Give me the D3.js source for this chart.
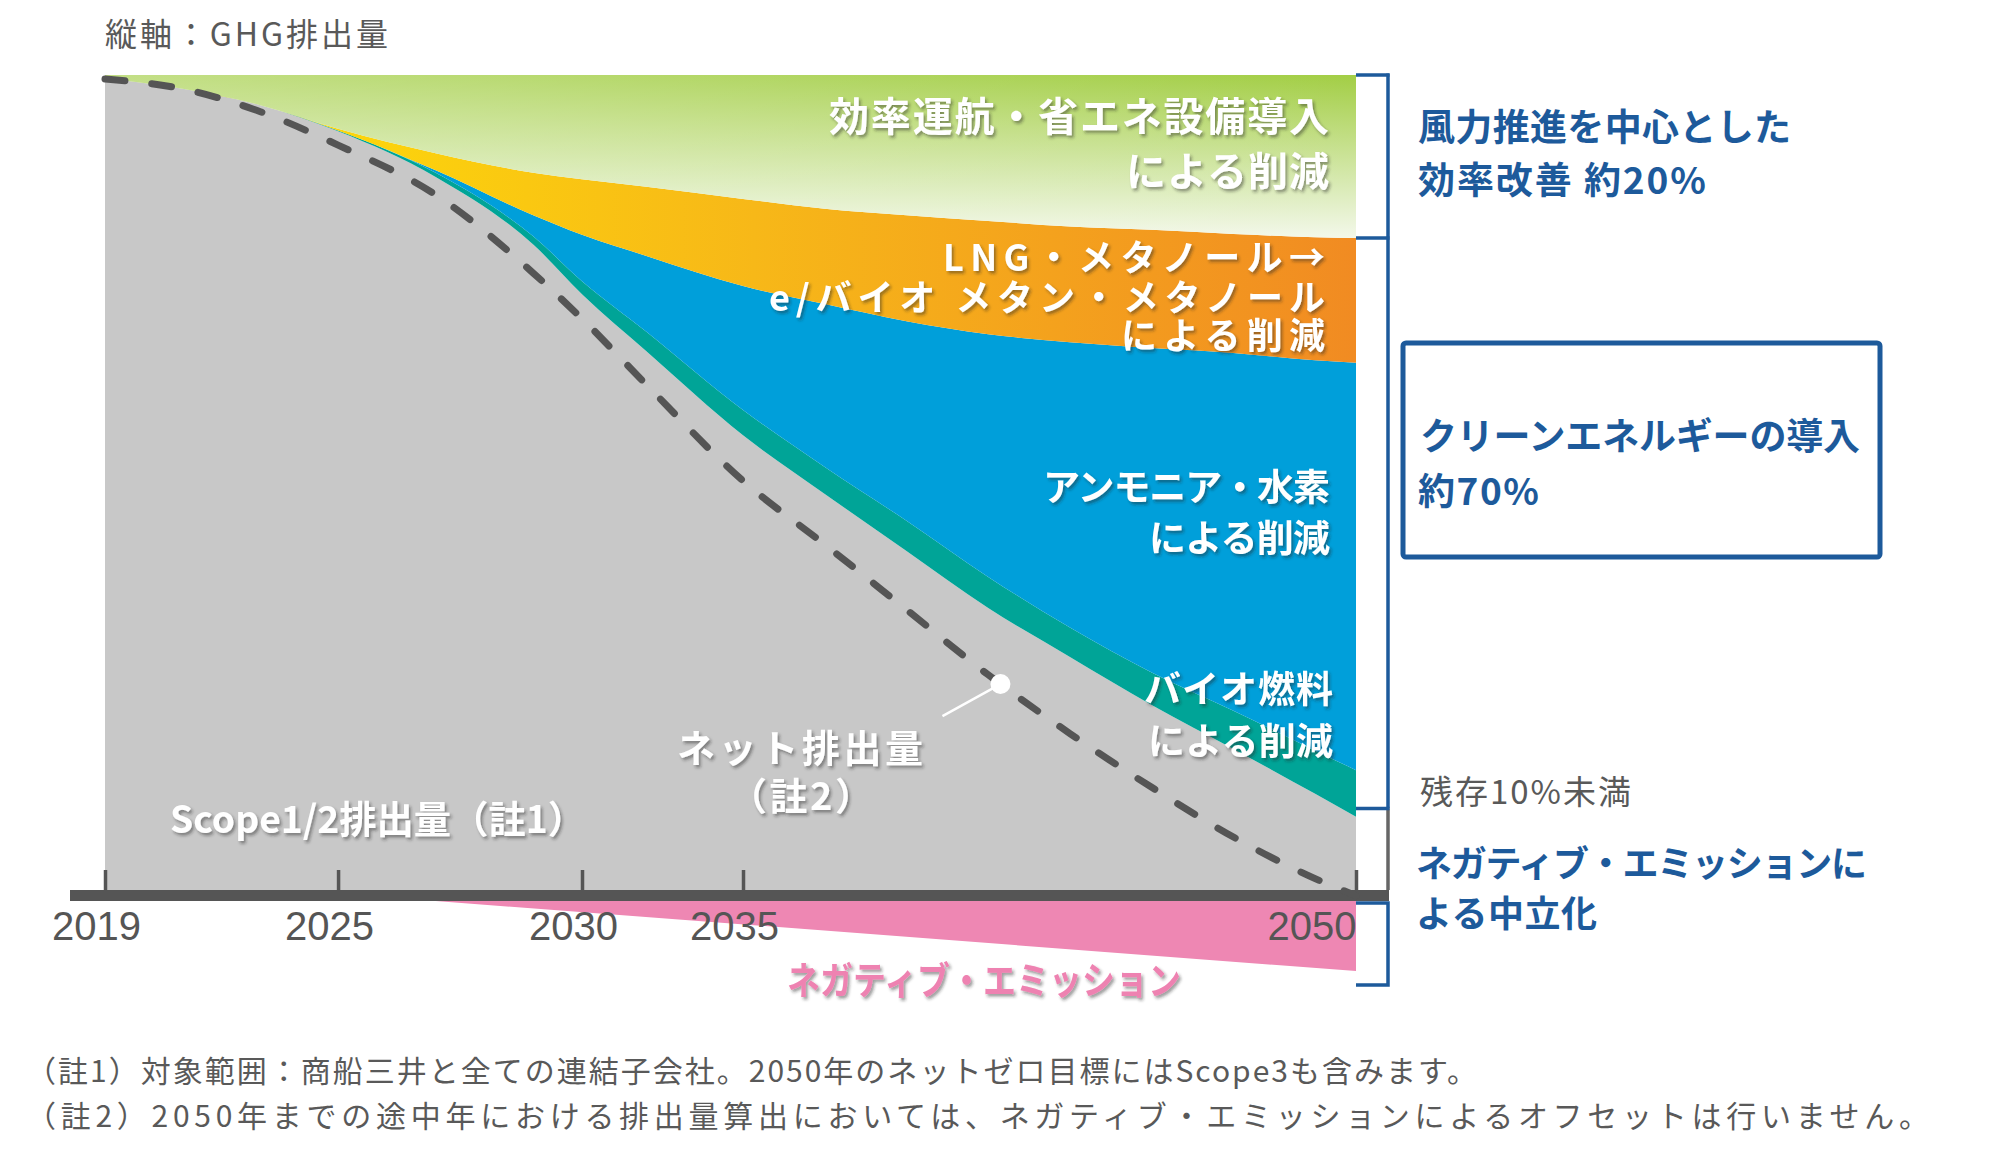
<!DOCTYPE html>
<html><head><meta charset="utf-8">
<script src="https://cdn.jsdelivr.net/npm/d3@7"></script>
<style>
html,body{margin:0;padding:0;background:#fff;}
svg{display:block;}
text{font-family:"Noto Sans CJK JP","Noto Sans",sans-serif;}
</style></head><body>
<svg id="chart" width="2000" height="1160"></svg>
<script>
// ---------------- data ----------------
const years       = [2019, 2021, 2023, 2025, 2027, 2029, 2030, 2032, 2035, 2037, 2039, 2041, 2043, 2045, 2047, 2049, 2050];
const scope12     = [99.6, 98.3, 96.3, 93.1, 87.5, 79.2, 73.1, 66.1, 55.8, 48.6, 41.6, 34.6, 28.6, 22.7, 17.3, 11.8, 9.0];
const biofuel     = [0,    0,    0,    0.1,  0.5,  1.0,  1.6,  2.4,  3.1,  3.3,  3.7,  3.8,  3.6,  4.0,  4.7,  5.3,  5.7];
const ammonia     = [0,    0,    0,    0,    0.3,  2.6,  5.7,  9.3,  15.2, 20.0, 24.5, 29.8, 35.0, 39.8, 43.9, 47.9, 50.0];
const lngMethanol = [0,    0,    0,    0.2,  2.1,  5.2,  6.8,  8.5,  10.7, 11.7, 13.0, 13.9, 14.2, 14.5, 14.6, 15.1, 15.3];
const efficiency  = [0.4,  1.7,  3.7,  6.6,  9.6,  12.0, 12.8, 13.7, 15.2, 16.4, 17.2, 17.9, 18.6, 19.0, 19.5, 19.9, 20.0];
const netEmission = [99.5, 98.3, 95.5, 91.4, 85.3, 75.7, 70.1, 62.0, 50.2, 42.4, 34.4, 26.4, 19.2, 12.6, 6.5,  1.4,  -0.7];
const negYears    = [2027, 2050];
const negEmission = [0, 8.6];
const tickYears   = [2019, 2025, 2030, 2035, 2050];
const tickLabels  = ["2019", "2025", "2030", "2035", "2050"];
const seriesKeys  = ["scope12", "biofuel", "ammonia", "lng", "efficiency"];
const bracketLevels = [100, 80, 10];
const dotYear = 2041.3;

// ---------------- layout ----------------
const svg = d3.select("#chart");
const L = 105, R = 1356, W = R - L;
const baseY = 890, topY = 75, barH = 11;
const x = d3.scaleLinear().domain(tickYears)
  .range([L, L + 0.1863 * W, L + 0.3813 * W, L + 0.51 * W, R]);
const y = d3.scaleLinear().domain([0, 100]).range([baseY, topY]);
const pxPerUnit = (baseY - topY) / 100;
const yNeg = d3.scaleLinear().domain([0, 10]).range([baseY + barH, baseY + barH + 10 * pxPerUnit]);

const BLUE = "#1d5a9b", GRAYTXT = "#595959", AXIS = "#555555";

// defs
const defs = svg.append("defs");
const gGreen = defs.append("linearGradient").attr("id", "gGreen")
  .attr("gradientUnits", "userSpaceOnUse").attr("x1", 0).attr("y1", topY).attr("x2", 0).attr("y2", y(80));
gGreen.append("stop").attr("offset", 0).attr("stop-color", "#a3ce45");
gGreen.append("stop").attr("offset", 1).attr("stop-color", "#f3f8ea");
const gGreenH = defs.append("linearGradient").attr("id", "gGreenH")
  .attr("gradientUnits", "userSpaceOnUse").attr("x1", L).attr("y1", 0).attr("x2", R).attr("y2", 0);
gGreenH.append("stop").attr("offset", 0).attr("stop-color", "#fff").attr("stop-opacity", 0.35);
gGreenH.append("stop").attr("offset", 1).attr("stop-color", "#fff").attr("stop-opacity", 0);
const gOrange = defs.append("linearGradient").attr("id", "gOrange")
  .attr("gradientUnits", "userSpaceOnUse").attr("x1", 300).attr("y1", 0).attr("x2", R).attr("y2", 0);
gOrange.append("stop").attr("offset", 0).attr("stop-color", "#fdd80a");
gOrange.append("stop").attr("offset", 0.43).attr("stop-color", "#f7b818");
gOrange.append("stop").attr("offset", 1).attr("stop-color", "#f18b22");
const sh = defs.append("filter").attr("id", "shadow").attr("x", "-10%").attr("y", "-30%").attr("width", "130%").attr("height", "160%");
sh.append("feDropShadow").attr("dx", 2).attr("dy", 2.5).attr("stdDeviation", 1.6)
  .attr("flood-color", "#222").attr("flood-opacity", 0.45);

// ---------------- stacked areas ----------------
const table = years.map((yr, i) => ({
  year: yr, scope12: scope12[i], biofuel: biofuel[i], ammonia: ammonia[i],
  lng: lngMethanol[i], efficiency: efficiency[i]
}));
const stacked = d3.stack().keys(seriesKeys)(table);
const fills = { scope12: "#c8c8c8", biofuel: "#00a497", ammonia: "#009fda", lng: "url(#gOrange)", efficiency: "url(#gGreen)" };
const area = d3.area().x(d => x(d.data.year)).y0(d => y(d[0])).y1(d => y(d[1])).curve(d3.curveMonotoneX);
svg.append("g").selectAll("path").data(stacked).join("path")
  .attr("d", area).attr("fill", d => fills[d.key]);
svg.append("path").datum(stacked[4]).attr("d", area).attr("fill", "url(#gGreenH)");

// negative emissions wedge
const negData = negYears.map((yr, i) => ({ year: yr, v: negEmission[i] }));
svg.append("path").datum(negData)
  .attr("d", d3.area().x(d => x(d.year)).y0(yNeg(0)).y1(d => yNeg(d.v)))
  .attr("fill", "#ee87b3");

// axis bar + ticks
svg.append("rect").attr("x", 70).attr("y", baseY).attr("width", 1389 - 70).attr("height", barH).attr("fill", AXIS);
const ax = svg.append("g").attr("transform", `translate(0,${baseY})`)
  .call(d3.axisBottom(x).tickValues(tickYears).tickSizeInner(-20).tickSizeOuter(0)
    .tickFormat((d, i) => tickLabels[i]));
ax.select(".domain").remove();
ax.selectAll(".tick line").attr("stroke", AXIS).attr("stroke-width", 3.5);
ax.selectAll(".tick text")
  .attr("y", 50).attr("dy", 0).attr("dx", -9)
  .attr("fill", AXIS).attr("font-size", 40)
  .style("font-family", "'Liberation Sans', Arial, sans-serif")
  .filter((d, i) => i === tickYears.length - 1).attr("text-anchor", "end").attr("dx", 0);

// net emission dashed line
const netData = years.map((yr, i) => ({ year: yr, v: netEmission[i] }));
const netPath = svg.append("path").datum(netData)
  .attr("d", d3.line().x(d => x(d.year)).y(d => y(d.v)).curve(d3.curveMonotoneX))
  .attr("fill", "none").attr("stroke", AXIS).attr("stroke-width", 7)
  .attr("stroke-dasharray", "20 27").attr("stroke-linecap", "round");

// dot on net line
(function () {
  const node = netPath.node(), len = node.getTotalLength(), tx = x(dotYear);
  let lo = 0, hi = len;
  for (let k = 0; k < 40; k++) { const m = (lo + hi) / 2; if (node.getPointAtLength(m).x < tx) lo = m; else hi = m; }
  const p = node.getPointAtLength(lo);
  svg.append("line").attr("x1", p.x).attr("y1", p.y).attr("x2", p.x - 58).attr("y2", p.y + 32)
    .attr("stroke", "#fff").attr("stroke-width", 2.5);
  svg.append("circle").attr("cx", p.x).attr("cy", p.y).attr("r", 10).attr("fill", "#fff");
})();

// ---------------- brackets & box ----------------
const bx = 1388;
svg.append("line").attr("x1", bx).attr("x2", bx).attr("y1", y(100) - 1.5).attr("y2", y(10))
  .attr("stroke", BLUE).attr("stroke-width", 3.5);
svg.append("line").attr("x1", bx).attr("x2", bx).attr("y1", y(10)).attr("y2", baseY)
  .attr("stroke", "#666").attr("stroke-width", 3.5);
svg.selectAll(".btick").data(bracketLevels).join("line")
  .attr("x1", R).attr("x2", bx + 1.5).attr("y1", d => y(d)).attr("y2", d => y(d))
  .attr("stroke", BLUE).attr("stroke-width", 3.5);
const negTop = baseY + barH + 2, negBot = 985;
svg.append("path").attr("d", `M${R},${negTop}H${bx}V${negBot}H${R}`)
  .attr("fill", "none").attr("stroke", BLUE).attr("stroke-width", 3.5);
svg.append("rect").attr("x", 1403).attr("y", 343).attr("width", 477).attr("height", 214).attr("rx", 3)
  .attr("fill", "none").attr("stroke", BLUE).attr("stroke-width", 5);

// ---------------- texts ----------------
function txt(s, px, py, o) {
  const t = svg.append("text").attr("x", px).attr("y", py).text(s)
    .attr("font-size", o.size).attr("font-weight", o.weight || 400)
    .attr("fill", o.fill).attr("text-anchor", o.anchor || "start");
  if (o.len) t.attr("textLength", o.len).attr("lengthAdjust", o.adjust || "spacing");
  if (o.shadow) t.attr("filter", "url(#shadow)");
  return t;
}
const white = { fill: "#fff", weight: 700, shadow: true, anchor: "end" };

txt("縦軸：GHG排出量", 105, 46, { size: 32, fill: GRAYTXT, len: 283 });

txt("効率運航・省エネ設備導入", 1329, 131, { ...white, size: 40, len: 500 });
txt("による削減", 1329, 186, { ...white, size: 40, len: 203 });
txt("LNG・メタノール→", 1325, 271, { ...white, size: 36, len: 382 });
txt("e/バイオ メタン・メタノール", 1325, 311, { ...white, size: 36, len: 556 });
txt("による削減", 1325, 349, { ...white, size: 36, len: 204 });
txt("アンモニア・水素", 1330, 501, { ...white, size: 37, len: 287 });
txt("による削減", 1330, 552, { ...white, size: 37, len: 181 });
txt("バイオ燃料", 1333, 703, { ...white, size: 37, len: 189 });
txt("による削減", 1333, 755, { ...white, size: 37, len: 185 });
txt("ネット排出量", 800, 762, { ...white, size: 38, anchor: "middle", len: 246 });
txt("（註2）", 801, 810, { ...white, size: 38, anchor: "middle", len: 144 });
txt("Scope1/2排出量（註1）", 170, 833, { ...white, anchor: "start", size: 38, len: 415, adjust: "spacingAndGlyphs" });
txt("ネガティブ・エミッション", 787, 994, { fill: "#ee82b1", weight: 700, shadow: true, size: 38, len: 394, adjust: "spacingAndGlyphs" });

txt("風力推進を中心とした", 1418, 141, { size: 37, weight: 700, fill: BLUE, len: 373 });
txt("効率改善 約20%", 1418, 194, { size: 37, weight: 700, fill: BLUE, len: 288 });
txt("クリーンエネルギーの導入", 1420, 450, { size: 37, weight: 700, fill: BLUE, len: 440 });
txt("約70%", 1418, 505, { size: 37, weight: 700, fill: BLUE, len: 121 });
txt("残存10%未満", 1420, 804, { size: 33, fill: GRAYTXT, len: 211 });
txt("ネガティブ・エミッションに", 1416, 877, { size: 36, weight: 700, fill: BLUE, len: 451 });
txt("よる中立化", 1416, 927, { size: 36, weight: 700, fill: BLUE, len: 181 });

txt("（註1）対象範囲：商船三井と全ての連結子会社。2050年のネットゼロ目標にはScope3も含みます。", 26, 1082, { size: 30, fill: GRAYTXT, len: 1451 });
txt("（註2）2050年までの途中年における排出量算出においては、ネガティブ・エミッションによるオフセットは行いません。", 26, 1127, { size: 30, fill: GRAYTXT, len: 1903 });
</script>
</body></html>
